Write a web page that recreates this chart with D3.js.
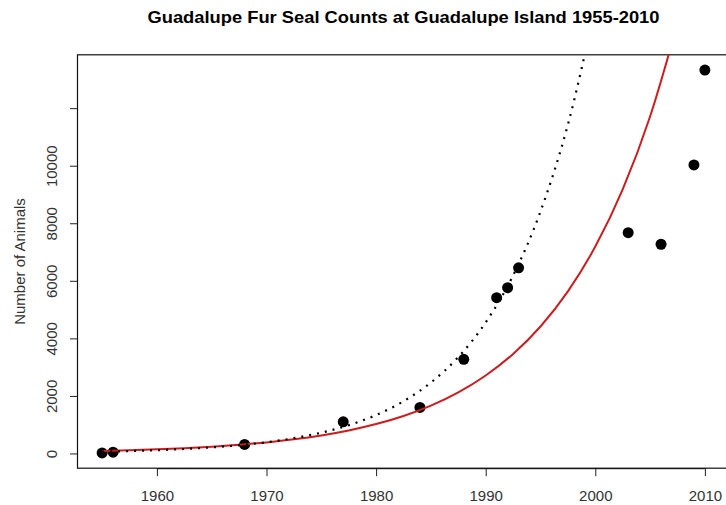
<!DOCTYPE html>
<html>
<head>
<meta charset="utf-8">
<script src="https://cdn.jsdelivr.net/npm/d3@7"></script>
<style>
  body { margin: 0; background: #fff; }
  svg text { font-family: "Liberation Sans", Arial, sans-serif; }
</style>
</head>
<body>
<svg id="chart" width="726" height="505"></svg>
<script>
// observed counts
var years  = [1955, 1956, 1968, 1977, 1984, 1988, 1991, 1992, 1993, 2003, 2006, 2009, 2010];
var counts = [20, 45, 313, 1100, 1600, 3270, 5412, 5760, 6450, 7673, 7270, 10028, 13322];

// solid red fitted curve
var redYears  = [1955, 1957.5, 1960, 1962.5, 1965, 1967.5, 1970, 1972.5, 1975, 1977.5, 1980,
                 1982.5, 1985, 1987.5, 1990, 1992.5, 1995, 1997.5, 2000, 2002.5, 2005, 2007.5];
var redValues = [89, 114, 145, 185, 236, 302, 385, 491, 627, 800, 1021,
                 1303, 1663, 2123, 2709, 3458, 4413, 5633, 7189, 9175, 11711, 14946];

// dotted black fitted curve
var dotYears  = [1955, 1957.5, 1960, 1962.5, 1965, 1967.5, 1970, 1972.5, 1975, 1977.5, 1980,
                 1982.5, 1985, 1987.5, 1990, 1992.5, 1995, 1997.5, 2000];
var dotValues = [62, 84, 115, 156, 212, 288, 391, 532, 723, 982, 1335,
                 1814, 2465, 3350, 4553, 6188, 8410, 11428, 15530];

var yTicks = [0, 2000, 4000, 6000, 8000, 10000, 12000];
var yTickLabels = ['0', '2000', '4000', '6000', '8000', '10000', ''];
var xTicks = [1960, 1970, 1980, 1990, 2000, 2010];

var titleText = 'Guadalupe Fur Seal Counts at Guadalupe Island 1955-2010';
var yLabelText = 'Number of Animals';

var plotLeft = 78, plotRight = 729, plotTop = 54.8, plotBottom = 468.2;

// R style 4% padding on the data range
var pad = function (ext) {
  var d = (ext[1] - ext[0]) * 0.04;
  return [ext[0] - d, ext[1] + d];
};

var x = d3.scaleLinear().domain(pad(d3.extent(years))).range([plotLeft, plotRight]);
var y = d3.scaleLinear().domain(pad(d3.extent(counts))).range([plotBottom, plotTop]);

var svg = d3.select('#chart');

svg.append('defs').append('clipPath')
  .attr('id', 'plotClip')
  .append('rect')
  .attr('x', plotLeft)
  .attr('y', plotTop)
  .attr('width', plotRight - plotLeft)
  .attr('height', plotBottom - plotTop);

// title
svg.append('text')
  .attr('x', (plotLeft + plotRight) / 2)
  .attr('y', 23)
  .attr('text-anchor', 'middle')
  .style('font-size', '17px')
  .style('font-weight', 'bold')
  .attr('textLength', 512)
  .attr('lengthAdjust', 'spacingAndGlyphs')
  .text(titleText);

// y axis
var yAxis = d3.axisLeft(y)
  .tickValues(yTicks)
  .tickSize(8)
  .tickPadding(0)
  .tickFormat(function (d, i) { return yTickLabels[i]; });

var gy = svg.append('g')
  .attr('transform', 'translate(' + plotLeft + ',0)')
  .call(yAxis);
gy.select('.domain').attr('d', 'M-0.5,' + y(0) + 'V' + y(12000));
gy.selectAll('.tick line').attr('stroke', '#222');
gy.selectAll('.tick text')
  .attr('x', null).attr('dy', null)
  .attr('transform', 'translate(-21,0) rotate(-90)')
  .attr('text-anchor', 'middle')
  .attr('fill', '#333')
  .style('font-size', '15px');

// x axis
var xAxis = d3.axisBottom(x)
  .tickValues(xTicks)
  .tickSize(8)
  .tickFormat(d3.format('d'));

var gx = svg.append('g')
  .attr('transform', 'translate(0,' + plotBottom + ')')
  .call(xAxis);
gx.select('.domain').attr('d', 'M' + x(1960) + ',0.5H' + x(2010));
gx.selectAll('.tick line').attr('stroke', '#222');
gx.selectAll('.tick text')
  .attr('dy', null)
  .attr('y', 33)
  .attr('fill', '#333')
  .style('font-size', '15px');

// axis title
svg.append('text')
  .attr('transform', 'translate(25,' + (plotTop + plotBottom) / 2 + ') rotate(-90)')
  .attr('text-anchor', 'middle')
  .attr('fill', '#333')
  .style('font-size', '15px')
  .text(yLabelText);

// plot box
svg.append('rect')
  .attr('x', plotLeft - 0.5)
  .attr('y', plotTop)
  .attr('width', plotRight - plotLeft)
  .attr('height', plotBottom - plotTop)
  .attr('fill', 'none')
  .attr('stroke', '#111')
  .attr('stroke-width', 1.2);

var plot = svg.append('g').attr('clip-path', 'url(#plotClip)');

// points
plot.selectAll('circle.obs')
  .data(years)
  .enter()
  .append('circle')
  .attr('class', 'obs')
  .attr('cx', function (d) { return x(d); })
  .attr('cy', function (d, i) { return y(counts[i]); })
  .attr('r', 5.5)
  .attr('fill', '#000');

var line = d3.line()
  .x(function (d) { return x(d[0]); })
  .y(function (d) { return y(d[1]); })
  .curve(d3.curveMonotoneX);

plot.append('path')
  .datum(d3.zip(redYears, redValues))
  .attr('d', line)
  .attr('fill', 'none')
  .attr('stroke', '#cc1c1f')
  .attr('stroke-width', 2);

plot.append('path')
  .datum(d3.zip(dotYears, dotValues))
  .attr('d', line)
  .attr('fill', 'none')
  .attr('stroke', '#000')
  .attr('stroke-width', 2.2)
  .attr('stroke-dasharray', '2,6');
</script>
</body>
</html>
